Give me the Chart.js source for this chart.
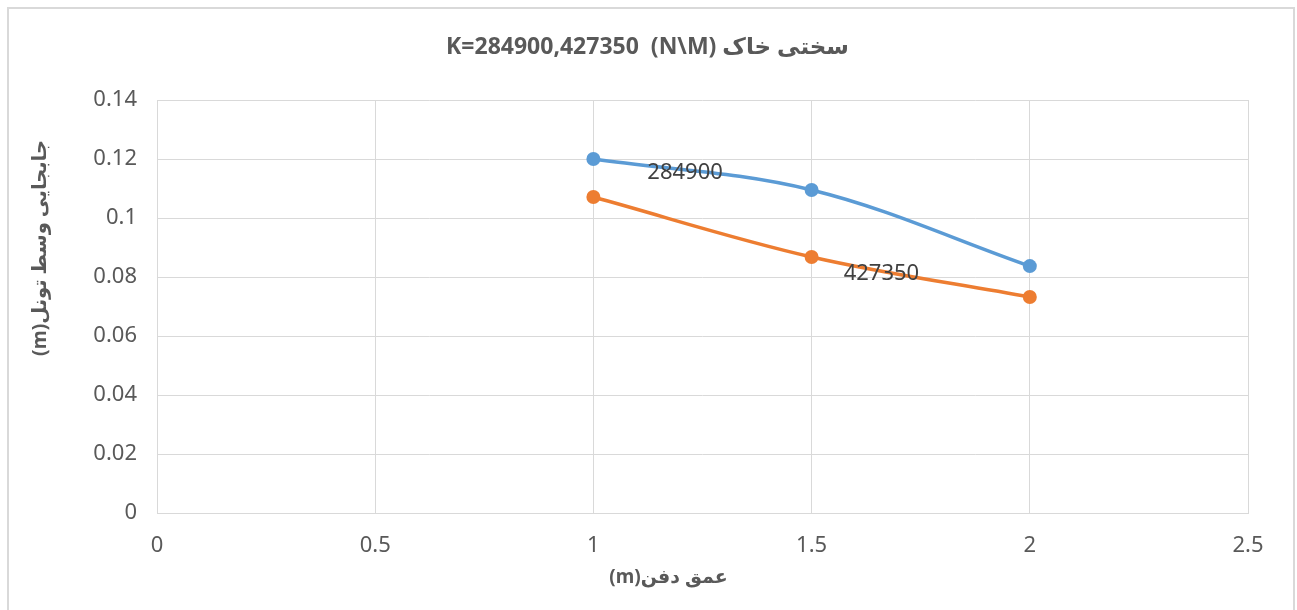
<!DOCTYPE html>
<html>
<head>
<meta charset="utf-8">
<script src="https://cdn.jsdelivr.net/npm/chart.js@4.4.1/dist/chart.umd.min.js"></script>
<style>
html,body{margin:0;padding:0;background:#fff;}
#wrap{position:absolute;left:0;top:0;width:1297px;height:610px;}
</style>
</head>
<body>
<div id="wrap"><canvas id="c"></canvas></div>
<script>
const depths = [1, 1.5, 2];
const series1 = [0.120, 0.1095, 0.0837];
const series2 = [0.1071, 0.0868, 0.0732];
const seriesNames = ['284900', '427350'];
const labelAnchors = [[1.21, 0.1153], [1.66, 0.0812]];
const xTicks = [0, 0.5, 1, 1.5, 2, 2.5];
const yTicks = [0, 0.02, 0.04, 0.06, 0.08, 0.1, 0.12, 0.14];
const titleText = 'K=284900,427350  (N\\M) سختی خاک';
const xTitle = '(m)عمق دفن';
const yTitle = '(m)جابجایی وسط تونل';

const FONT = "'Noto Sans', 'DejaVu Sans', sans-serif";
const GREY = '#595959';

const borderPlugin = {
  id: 'frame',
  beforeDraw(chart) {
    const ctx = chart.ctx;
    ctx.save();
    ctx.fillStyle = '#fff';
    ctx.fillRect(0, 0, chart.width, chart.height);
    ctx.strokeStyle = '#d9d9d9';
    ctx.lineWidth = 2;
    ctx.strokeRect(8, 8, chart.width - 11, chart.height);
    ctx.restore();
  }
};

const textPlugin = {
  id: 'texts',
  afterDatasetsDraw(chart) {
    const ctx = chart.ctx;
    const xs = chart.scales.x, ys = chart.scales.y;
    const a = chart.chartArea;
    ctx.save();
    ctx.font = "22px " + FONT;
    ctx.fillStyle = '#404040';
    ctx.textAlign = 'center';
    ctx.textBaseline = 'middle';
    seriesNames.forEach((n, i) => {
      ctx.fillText(n, xs.getPixelForValue(labelAnchors[i][0]), ys.getPixelForValue(labelAnchors[i][1]));
    });
    // chart title
    ctx.fillStyle = GREY;
    ctx.font = "bold 23px " + FONT;
    ctx.fillText(titleText, (a.left + a.right) / 2 - 55, a.top - 53);
    // axis titles
    ctx.font = "bold 19px " + FONT;
    ctx.fillText(xTitle, (a.left + a.right) / 2 - 34, a.bottom + 65);
    ctx.translate(a.left - 117, a.top + 148);
    ctx.rotate(-Math.PI / 2);
    ctx.font = "bold 19.5px " + FONT;
    ctx.fillText(yTitle, 0, 0);
    ctx.restore();
  }
};

const fmt = v => String(v);

new Chart(document.getElementById('c'), {
  type: 'scatter',
  data: {
    datasets: [
      {
        label: seriesNames[0],
        data: depths.map((d, i) => ({x: d, y: series1[i]})),
        borderColor: '#5b9bd5',
        backgroundColor: '#5b9bd5',
        showLine: true,
        tension: 0.35,
        borderWidth: 3.5,
        pointRadius: 7,
        pointBorderWidth: 0
      },
      {
        label: seriesNames[1],
        data: depths.map((d, i) => ({x: d, y: series2[i]})),
        borderColor: '#ed7d31',
        backgroundColor: '#ed7d31',
        showLine: true,
        tension: 0.35,
        borderWidth: 3.5,
        pointRadius: 7,
        pointBorderWidth: 0
      }
    ]
  },
  plugins: [borderPlugin, textPlugin],
  options: {
    responsive: true,
    maintainAspectRatio: false,
    animation: false,
    layout: {padding: {left: 18, right: 49, top: 100, bottom: 0}},
    plugins: {
      legend: {display: false},
      tooltip: {enabled: false},
      title: {display: false}
    },
    scales: {
      x: {
        type: 'linear',
        min: 0, max: 2.5,
        afterBuildTicks(s) { s.ticks = xTicks.map(v => ({value: v})); },
        afterFit(s) { s.height = 97; },
        ticks: {color: GREY, font: {family: FONT, size: 22}, padding: 20, callback: fmt},
        grid: {color: '#d9d9d9', lineWidth: 1, drawTicks: false},
        border: {color: '#d9d9d9'}
      },
      y: {
        type: 'linear',
        min: 0, max: 0.14,
        afterBuildTicks(s) { s.ticks = yTicks.map(v => ({value: v})); },
        afterFit(s) { s.width = 139; },
        ticks: {color: GREY, font: {family: FONT, size: 22}, padding: 20, callback: fmt},
        grid: {color: '#d9d9d9', lineWidth: 1, drawTicks: false},
        border: {display: false}
      }
    }
  }
});
</script>
</body>
</html>
